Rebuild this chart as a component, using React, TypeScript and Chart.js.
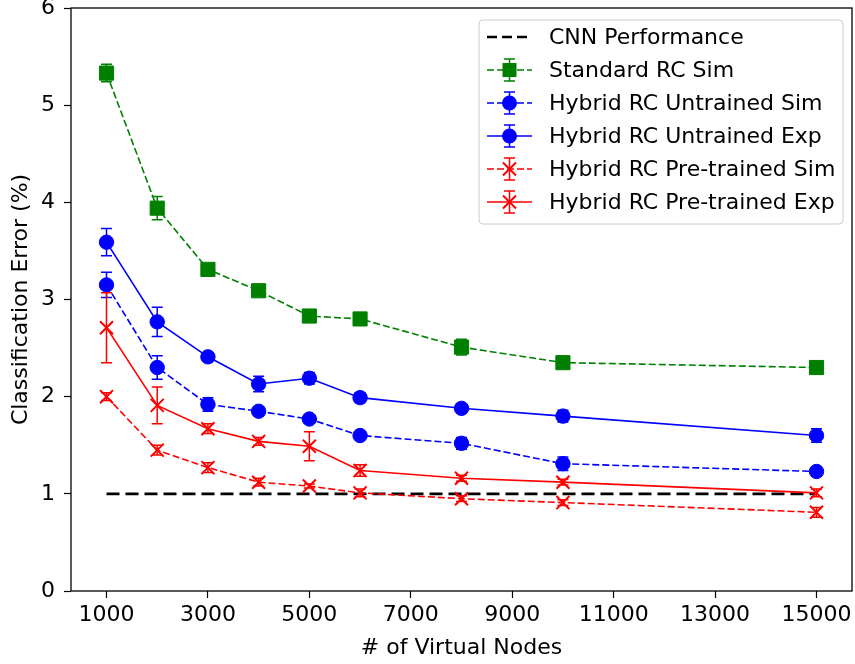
import React, { useEffect, useRef } from 'react';
import { Chart, registerables } from 'chart.js';

Chart.register(...registerables);

const FONT = "'DejaVu Sans', 'Liberation Sans', sans-serif";
const FS = 22;

// ---- data ----
const nodes = [1000, 2000, 3000, 4000, 5000, 6000, 8000, 10000, 15000];
const xTickValues = [1000, 3000, 5000, 7000, 9000, 11000, 13000, 15000];
const yTickValues = [0, 1, 2, 3, 4, 5, 6];

const cnnNodes = [1000, 15000];
const cnnError = [1, 1];

const standardSim = [5.33, 3.94, 3.31, 3.09, 2.83, 2.8, 2.51, 2.35, 2.3];
const standardSimErr = [0.09, 0.12, 0.04, 0.03, 0.03, 0.03, 0.08, 0.03, 0.03];

const untrainedSim = [3.15, 2.3, 1.92, 1.85, 1.77, 1.6, 1.52, 1.31, 1.23];
const untrainedSimErr = [0.13, 0.12, 0.07, 0.04, 0.04, 0.04, 0.06, 0.07, 0.05];

const untrainedExp = [3.59, 2.77, 2.41, 2.13, 2.19, 1.99, 1.88, 1.8, 1.6];
const untrainedExpErr = [0.14, 0.15, 0.03, 0.08, 0.06, 0.05, 0.04, 0.06, 0.07];

const pretrainedSim = [2.0, 1.45, 1.27, 1.12, 1.08, 1.01, 0.95, 0.91, 0.81];
const pretrainedSimErr = [0.04, 0.05, 0.05, 0.04, 0.02, 0.04, 0.03, 0.03, 0.05];

const pretrainedExp = [2.71, 1.91, 1.67, 1.54, 1.49, 1.24, 1.16, 1.12, 1.01];
const pretrainedExpErr = [0.36, 0.19, 0.05, 0.04, 0.15, 0.06, 0.03, 0.03, 0.04];

const seriesLabels = [
  'CNN Performance',
  'Standard RC Sim',
  'Hybrid RC Untrained Sim',
  'Hybrid RC Untrained Exp',
  'Hybrid RC Pre-trained Sim',
  'Hybrid RC Pre-trained Exp',
];

type Marker = 'none' | 'rect' | 'circle' | 'crossRot';
interface Style {
  color: string;
  dash: number[];
  width: number;
  marker: Marker;
}

const GREEN = '#008000';
const BLUE = '#0000ff';
const RED = '#ff0000';
const SIM_DASH = [7, 3];

const styles: Style[] = [
  { color: '#000000', dash: [13, 6], width: 2.7, marker: 'none' },
  { color: GREEN, dash: SIM_DASH, width: 1.6, marker: 'rect' },
  { color: BLUE, dash: SIM_DASH, width: 1.6, marker: 'circle' },
  { color: BLUE, dash: [], width: 1.6, marker: 'circle' },
  { color: RED, dash: SIM_DASH, width: 1.6, marker: 'crossRot' },
  { color: RED, dash: [], width: 1.6, marker: 'crossRot' },
];

const seriesValues = [cnnError, standardSim, untrainedSim, untrainedExp, pretrainedSim, pretrainedExp];
const seriesX = [cnnNodes, nodes, nodes, nodes, nodes, nodes];
const seriesErr: (number[] | null)[] = [null, standardSimErr, untrainedSimErr, untrainedExpErr, pretrainedSimErr, pretrainedExpErr];

const CAP = 5.5;

function drawMarker(ctx: CanvasRenderingContext2D, kind: Marker, x: number, y: number, color: string) {
  ctx.save();
  ctx.fillStyle = color;
  ctx.strokeStyle = color;
  ctx.setLineDash([]);
  if (kind === 'rect') {
    const s = 7;
    ctx.fillRect(x - s, y - s, 2 * s, 2 * s);
  } else if (kind === 'circle') {
    ctx.beginPath();
    ctx.arc(x, y, 7.5, 0, Math.PI * 2);
    ctx.fill();
  } else if (kind === 'crossRot') {
    const s = 6.5;
    ctx.lineWidth = 2;
    ctx.beginPath();
    ctx.moveTo(x - s, y - s);
    ctx.lineTo(x + s, y + s);
    ctx.moveTo(x - s, y + s);
    ctx.lineTo(x + s, y - s);
    ctx.stroke();
  }
  ctx.restore();
}

function drawErrBar(ctx: CanvasRenderingContext2D, x: number, yTop: number, yBot: number, color: string) {
  ctx.save();
  ctx.strokeStyle = color;
  ctx.lineWidth = 1.5;
  ctx.setLineDash([]);
  ctx.beginPath();
  ctx.moveTo(x, yTop);
  ctx.lineTo(x, yBot);
  ctx.moveTo(x - CAP, yTop);
  ctx.lineTo(x + CAP, yTop);
  ctx.moveTo(x - CAP, yBot);
  ctx.lineTo(x + CAP, yBot);
  ctx.stroke();
  ctx.restore();
}

const errorBarPlugin = {
  id: 'errorBars',
  beforeDatasetDraw(chart: any, args: any) {
    const err = seriesErr[args.index];
    if (!err) return;
    const ctx = chart.ctx as CanvasRenderingContext2D;
    const ys = chart.scales.y;
    const values = seriesValues[args.index];
    const color = styles[args.index].color;
    args.meta.data.forEach((pt: any, i: number) => {
      const v = values[i];
      const e = err[i];
      drawErrBar(ctx, pt.x, ys.getPixelForValue(v + e), ys.getPixelForValue(v - e), color);
    });
  },
};

const framePlugin = {
  id: 'frame',
  afterDatasetsDraw(chart: any) {
    const { ctx, chartArea } = chart;
    ctx.save();
    ctx.strokeStyle = '#000';
    ctx.lineWidth = 1.3;
    ctx.setLineDash([]);
    ctx.strokeRect(chartArea.left, chartArea.top, chartArea.right - chartArea.left, chartArea.bottom - chartArea.top);
    ctx.restore();
  },
};

const legendPlugin = {
  id: 'customLegend',
  afterDraw(chart: any) {
    const ctx = chart.ctx as CanvasRenderingContext2D;
    const area = chart.chartArea;
    const boxW = 364;
    const boxH = 204;
    const bx = area.right - 9 - boxW;
    const by = area.top + 12;
    const rowH = 33;
    ctx.save();
    const r = 4;
    ctx.beginPath();
    ctx.moveTo(bx + r, by);
    ctx.lineTo(bx + boxW - r, by);
    ctx.quadraticCurveTo(bx + boxW, by, bx + boxW, by + r);
    ctx.lineTo(bx + boxW, by + boxH - r);
    ctx.quadraticCurveTo(bx + boxW, by + boxH, bx + boxW - r, by + boxH);
    ctx.lineTo(bx + r, by + boxH);
    ctx.quadraticCurveTo(bx, by + boxH, bx, by + boxH - r);
    ctx.lineTo(bx, by + r);
    ctx.quadraticCurveTo(bx, by, bx + r, by);
    ctx.closePath();
    ctx.fillStyle = 'rgba(255,255,255,0.8)';
    ctx.fill();
    ctx.strokeStyle = '#cccccc';
    ctx.lineWidth = 1;
    ctx.stroke();

    ctx.font = `${FS}px ${FONT}`;
    ctx.textBaseline = 'middle';
    ctx.textAlign = 'left';
    seriesLabels.forEach((label, i) => {
      const st = styles[i];
      const y = by + 17 + i * rowH;
      const x0 = bx + 8;
      const x1 = bx + 53;
      const xm = (x0 + x1) / 2;
      ctx.save();
      ctx.strokeStyle = st.color;
      ctx.lineWidth = st.width;
      ctx.setLineDash(i === 0 ? [10, 5] : st.dash);
      ctx.beginPath();
      ctx.moveTo(x0, y);
      ctx.lineTo(x1, y);
      ctx.stroke();
      ctx.restore();
      if (seriesErr[i]) {
        drawErrBar(ctx, xm, y - 11, y + 11, st.color);
      }
      drawMarker(ctx, st.marker, xm, y, st.color);
      ctx.fillStyle = '#000';
      ctx.fillText(label, bx + 70, y + 1);
    });
    ctx.restore();
  },
};

export default function App() {
  const ref = useRef<HTMLCanvasElement>(null);

  useEffect(() => {
    const canvas = ref.current;
    if (!canvas) return;

    const datasets = seriesLabels.map((label, i) => {
      const st = styles[i];
      const xs = seriesX[i];
      return {
        label,
        data: xs.map((x, j) => ({ x, y: seriesValues[i][j] })),
        borderColor: st.color,
        backgroundColor: st.color,
        borderWidth: st.width,
        borderDash: st.dash,
        pointStyle: st.marker === 'none' || st.marker === 'circle' ? 'circle' : st.marker,
        pointRadius: st.marker === 'none' ? 0 : st.marker === 'rect' ? 10 : st.marker === 'circle' ? 7.2 : 9.2,
        pointBorderWidth: st.marker === 'crossRot' ? 2 : 1,
        pointBackgroundColor: st.color,
        pointBorderColor: st.color,
        fill: false,
        tension: 0,
        clip: false,
        order: seriesLabels.length - i,
      };
    });

    const chart = new Chart(canvas, {
      type: 'line',
      data: { datasets: datasets as any },
      options: {
        animation: false,
        responsive: false,
        devicePixelRatio: 1,
        layout: { autoPadding: false, padding: { top: 8, right: 3, left: 0, bottom: 0 } },
        plugins: {
          legend: { display: false },
          tooltip: { enabled: false },
        },
        scales: {
          x: {
            type: 'linear',
            min: 300,
            max: 15700,
            afterBuildTicks: (s: any) => {
              s.ticks = xTickValues.map((v) => ({ value: v }));
            },
            afterFit: (s: any) => {
              s.height = 73;
              s.paddingLeft = 0;
              s.paddingRight = 0;
            },
            grid: {
              display: true,
              drawOnChartArea: false,
              drawTicks: true,
              tickLength: 7,
              tickColor: '#000',
              tickWidth: 1.2,
            },
            border: { display: false },
            ticks: {
              autoSkip: false,
              maxRotation: 0,
              padding: 4,
              color: '#000',
              font: { family: FONT, size: FS },
              callback: (v: any) => String(v),
            },
            title: {
              display: true,
              text: '# of Virtual Nodes',
              color: '#000',
              font: { family: FONT, size: FS },
              padding: { top: 0, bottom: 3 },
            },
          },
          y: {
            type: 'linear',
            min: 0,
            max: 6,
            afterBuildTicks: (s: any) => {
              s.ticks = yTickValues.map((v) => ({ value: v }));
            },
            afterFit: (s: any) => {
              s.width = 71;
              s.paddingTop = 0;
              s.paddingBottom = 0;
            },
            grid: {
              display: true,
              drawOnChartArea: false,
              drawTicks: true,
              tickLength: 7,
              tickColor: '#000',
              tickWidth: 1.2,
            },
            border: { display: false },
            ticks: {
              padding: 9,
              color: '#000',
              font: { family: FONT, size: FS },
              callback: (v: any) => String(v),
            },
            title: {
              display: true,
              text: 'Classification Error (%)',
              color: '#000',
              font: { family: FONT, size: FS },
              padding: { top: 8, bottom: 0 },
            },
          },
        },
      },
      plugins: [errorBarPlugin, framePlugin, legendPlugin],
    });

    return () => chart.destroy();
  }, []);

  return (
    <div style={{ position: 'absolute', left: 0, top: 0, width: 855, height: 664, background: '#fff' }}>
      <canvas ref={ref} width={855} height={664} style={{ display: 'block', width: 855, height: 664 }} />
    </div>
  );
}
